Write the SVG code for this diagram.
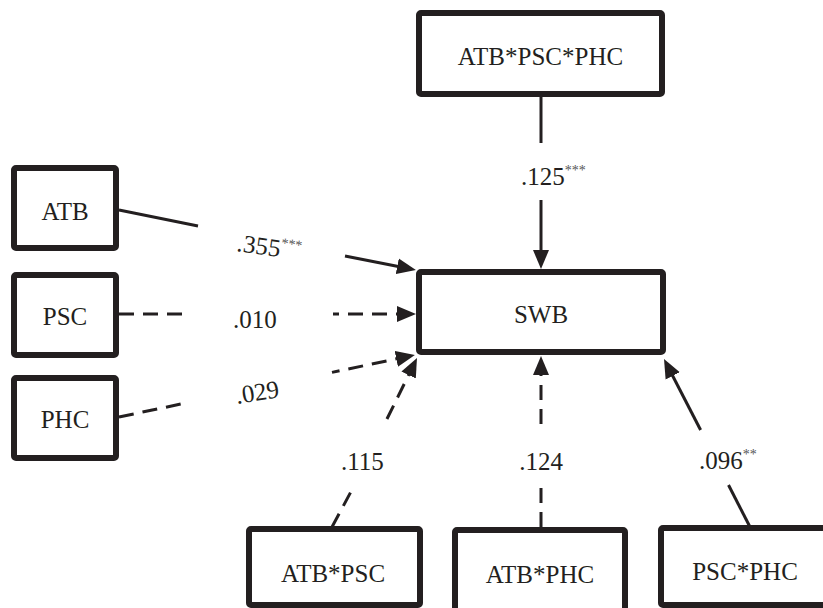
<svg xmlns="http://www.w3.org/2000/svg" width="823" height="608" viewBox="0 0 823 608">
<style>
.box{fill:#fff;stroke:#231f20;stroke-width:6;stroke-linejoin:round}
.t{font-family:"Liberation Serif","Times New Roman",serif;font-size:25px;fill:#231f20}
.c{text-anchor:middle}
.sup{font-size:14px;fill:#555}
.ln{fill:none;stroke:#231f20;stroke-width:3}
.d{stroke-dasharray:15 9}
</style>
<defs>
<marker id="ah" markerUnits="userSpaceOnUse" markerWidth="20" markerHeight="18" refX="14" refY="8" orient="auto-start-reverse" viewBox="0 0 20 16">
<path d="M0,0 L19,8 L0,16 Z" fill="#231f20"/>
</marker>
</defs>
<rect width="823" height="608" fill="#fff"/>
<g id="connectors">
<line class="ln" x1="541" y1="97" x2="541" y2="143"/>
<line class="ln" x1="541" y1="200" x2="541" y2="264" marker-end="url(#ah)"/>
<line class="ln" x1="119" y1="210" x2="198" y2="226"/>
<line class="ln" x1="345" y1="256" x2="411" y2="269" marker-end="url(#ah)"/>
<line class="ln d" x1="119" y1="314" x2="183" y2="314"/>
<line class="ln d" x1="411" y1="314" x2="333" y2="314" marker-start="url(#ah)"/>
<line class="ln d" x1="119" y1="417" x2="183" y2="403.6"/>
<line class="ln d" x1="410" y1="356" x2="332" y2="372.4" marker-start="url(#ah)"/>
<line class="ln d" x1="332" y1="527" x2="354" y2="486"/>
<line class="ln d" x1="414.8" y1="362.5" x2="383" y2="427" marker-start="url(#ah)"/>
<line class="ln d" x1="541" y1="527" x2="541" y2="483"/>
<line class="ln d" x1="541" y1="361" x2="541" y2="428" marker-start="url(#ah)"/>
<line class="ln" x1="750" y1="527" x2="728.5" y2="485"/>
<line class="ln" x1="700.6" y1="430" x2="666.3" y2="363.5" marker-end="url(#ah)"/>
</g>
<g id="labels">
<text class="t" x="521" y="185">.125<tspan class="sup" dy="-10">***</tspan></text>
<text class="t" x="236" y="251" transform="rotate(8 236 251)">.355<tspan class="sup" dy="-10">***</tspan></text>
<text class="t" x="233" y="328">.010</text>
<text class="t" x="237" y="404" transform="rotate(-9 237 404)">.029</text>
<text class="t" x="341" y="470">.115</text>
<text class="t c" x="541" y="470">.124</text>
<text class="t" x="699" y="469">.096<tspan class="sup" dy="-10">**</tspan></text>
</g>
<g id="n-abc"><rect class="box" x="419" y="13" width="243" height="81" rx="2"/><text class="t c" x="540.5" y="65">ATB*PSC*PHC</text></g>
<g id="n-swb"><rect class="box" x="419" y="272" width="244" height="80" rx="2"/><text class="t c" x="541" y="323">SWB</text></g>
<g id="n-atb"><rect class="box" x="14" y="168" width="102" height="80" rx="2"/><text class="t c" x="65" y="220">ATB</text></g>
<g id="n-psc"><rect class="box" x="14" y="275" width="102" height="80" rx="2"/><text class="t c" x="65" y="325">PSC</text></g>
<g id="n-phc"><rect class="box" x="14" y="378" width="102" height="80" rx="2"/><text class="t c" x="65" y="428">PHC</text></g>
<g id="n-ab"><rect class="box" x="249" y="529" width="171" height="76" rx="2"/><text class="t c" x="333" y="582">ATB*PSC</text></g>
<g id="n-ah"><rect class="box" x="455" y="530" width="170" height="85" rx="2"/><text class="t c" x="540" y="583">ATB*PHC</text></g>
<g id="n-ph"><rect class="box" x="661" y="528" width="175" height="77" rx="2"/><text class="t c" x="745" y="580">PSC*PHC</text></g>
</svg>
